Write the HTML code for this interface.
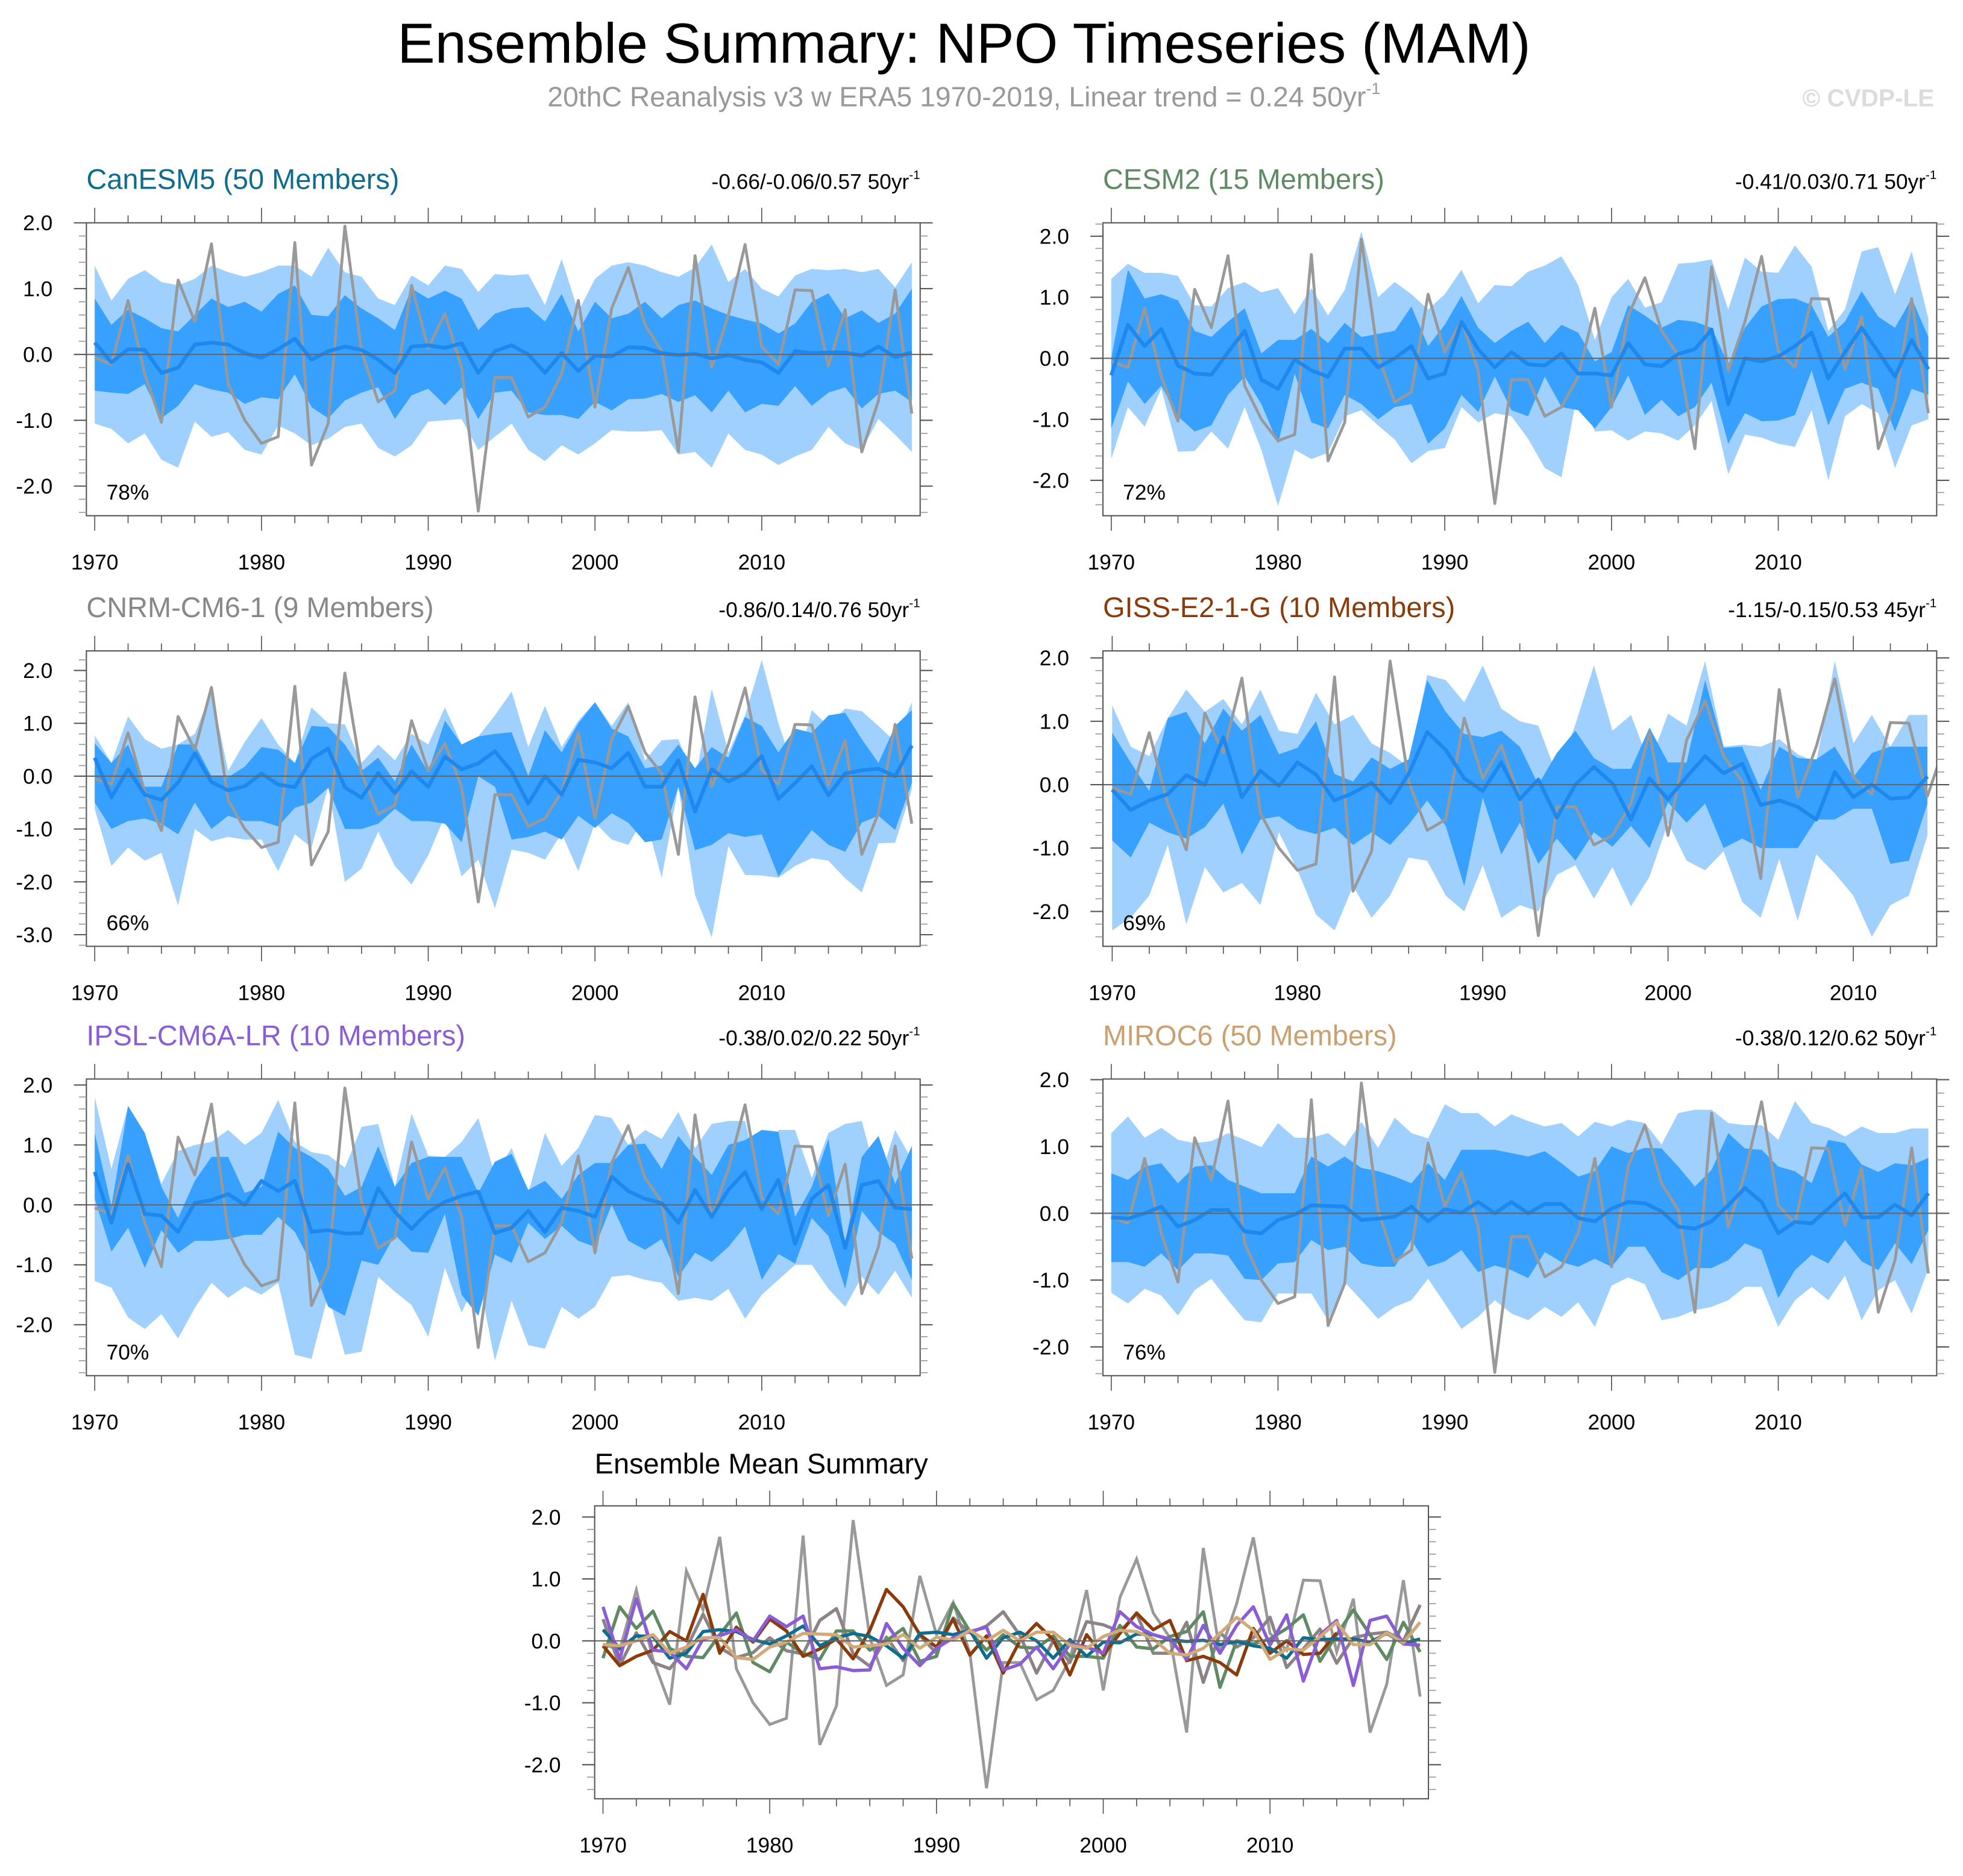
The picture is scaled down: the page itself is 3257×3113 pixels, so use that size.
<!DOCTYPE html>
<html><head><meta charset="utf-8"><title>Ensemble Summary: NPO Timeseries (MAM)</title>
<style>
html,body{margin:0;padding:0;background:#fff;}
svg{display:block;font-family:"Liberation Sans",Arial,sans-serif;}
</style></head>
<body>
<svg id="fig" width="3257" height="3113" viewBox="0 0 1568 1498.7" xmlns="http://www.w3.org/2000/svg">
<rect x="0" y="0" width="1568" height="1498.7" fill="#fff"/>
<text x="770" y="50" font-size="45" text-anchor="middle" fill="#000">Ensemble Summary: NPO Timeseries (MAM)</text>
<text x="770" y="85" font-size="22.3" text-anchor="middle" fill="#999">20thC Reanalysis v3 w ERA5 1970-2019, Linear trend = 0.24 50yr<tspan font-size="13" dy="-10">-1</tspan></text>
<text x="1545" y="85" font-size="19.5" font-weight="bold" text-anchor="end" fill="#dcdcdc">© CVDP-LE</text>
<g id="panels"></g>
</svg>
<script>
const obs = [-0.05,-0.15,0.82,-0.3,-1.03,1.13,0.5,1.68,-0.45,-1.0,-1.35,-1.25,1.7,-1.68,-1.05,1.95,0.05,-0.72,-0.55,1.05,0.1,0.62,-0.2,-2.38,-0.35,-0.35,-0.95,-0.8,-0.3,0.82,-0.8,0.7,1.32,0.45,0.05,-1.48,1.5,-0.2,0.6,1.67,0.12,-0.15,0.98,0.97,-0.18,0.68,-1.48,-0.7,0.98,-0.9];

const canMean = [0.18,-0.12,0.08,0.07,-0.28,-0.2,0.15,0.18,0.15,0.02,-0.05,0.08,0.24,-0.08,0.05,0.12,0.07,-0.08,-0.28,0.12,0.14,0.1,0.17,-0.28,0.05,0.14,0.0,-0.28,0.02,-0.25,-0.02,-0.03,0.11,0.1,0.02,-0.01,0.01,-0.06,-0.01,-0.08,-0.12,-0.28,0.05,0.02,0.03,0.03,-0.02,0.12,-0.04,0.03];
const canQ75 = [0.85,0.45,0.68,0.55,0.4,0.35,0.6,0.85,0.72,0.8,0.65,0.92,1.05,0.6,0.58,0.9,0.7,0.55,0.37,1.0,0.85,0.97,0.85,0.37,0.62,0.7,0.72,0.5,0.92,0.35,0.8,0.55,0.62,0.8,0.55,0.75,0.82,0.7,0.6,0.53,0.47,0.32,0.47,0.8,0.93,0.55,0.67,0.48,0.62,1.0];
const canQ25 = [-0.55,-0.58,-0.6,-0.45,-0.97,-0.78,-0.45,-0.53,-0.58,-0.75,-0.65,-0.68,-0.3,-0.8,-0.97,-0.7,-0.58,-0.5,-0.98,-0.62,-0.52,-0.77,-0.5,-0.98,-0.58,-0.55,-0.88,-0.92,-0.92,-0.98,-0.72,-0.85,-0.68,-0.67,-0.6,-0.72,-0.62,-0.88,-0.55,-0.88,-0.75,-0.78,-0.48,-0.78,-0.58,-0.5,-0.82,-0.6,-0.55,-0.72];
const canQ90 = [1.35,0.82,1.15,1.28,1.1,1.05,1.15,1.35,1.25,1.18,1.25,1.35,1.35,1.18,1.62,1.25,1.18,0.85,0.75,1.2,1.05,1.35,1.3,0.95,1.22,1.2,1.22,0.75,1.45,0.65,1.15,1.35,1.4,1.35,1.25,1.18,1.32,1.67,1.1,1.3,1.0,0.88,1.2,1.3,1.28,1.3,1.25,1.3,1.02,1.4];
const canQ10 = [-1.05,-1.13,-1.35,-1.2,-1.6,-1.72,-1.02,-1.25,-1.18,-1.45,-1.52,-1.08,-1.2,-1.38,-1.28,-1.1,-1.05,-1.42,-1.55,-1.38,-1.02,-1.0,-0.98,-1.45,-1.25,-1.05,-1.45,-1.62,-1.38,-1.52,-1.35,-1.15,-1.17,-1.17,-1.15,-1.52,-1.48,-1.72,-1.2,-1.45,-1.52,-1.68,-1.55,-1.45,-1.1,-1.35,-1.45,-0.98,-1.22,-1.48];

const cesMean = [-0.28,0.55,0.2,0.48,-0.12,-0.25,-0.27,0.1,0.45,-0.35,-0.5,-0.02,-0.2,-0.3,0.16,0.16,-0.15,0.0,0.2,-0.33,-0.25,0.6,0.15,-0.15,0.1,-0.1,-0.12,0.08,-0.25,-0.25,-0.28,0.25,-0.1,-0.13,0.07,0.15,0.47,-0.75,0.0,-0.05,0.03,0.2,0.42,-0.33,0.1,0.5,0.1,-0.3,0.3,-0.18];
const cesQ75 = [0.0,1.45,0.98,1.05,0.95,0.45,0.35,0.6,0.82,0.08,0.3,0.3,0.48,0.25,0.58,0.35,0.4,0.45,0.85,0.2,0.55,1.02,0.5,0.25,0.45,0.6,0.25,0.55,0.42,-0.05,0.1,0.87,0.7,0.5,0.63,0.6,0.5,-0.1,0.5,0.85,0.97,0.98,0.87,0.35,0.6,1.1,0.68,0.5,0.98,0.35];
const cesQ25 = [-1.15,-0.38,-0.75,-0.45,-0.95,-1.2,-1.1,-0.6,-0.3,-0.75,-1.4,-0.25,-1.05,-1.15,-0.6,-0.75,-1.0,-0.8,-0.75,-1.4,-1.15,-0.6,-0.88,-0.3,-0.85,-0.95,-0.3,-0.8,-0.85,-1.15,-0.8,-0.28,-0.93,-0.68,-0.95,-0.8,-0.4,-1.4,-0.9,-1.03,-1.02,-0.93,-0.2,-1.1,-0.5,-0.4,-0.5,-1.2,-0.5,-0.6];
const cesQ90 = [1.3,1.55,1.4,1.4,1.35,0.87,0.85,1.15,1.25,1.08,1.15,0.72,1.15,0.7,1.12,2.08,1.0,1.25,1.05,0.8,1.05,1.45,0.9,1.2,1.18,1.42,1.52,1.67,1.2,0.3,1.0,1.3,0.83,0.92,1.55,1.57,1.62,0.8,1.65,1.42,1.4,1.85,1.5,0.45,0.8,1.75,1.82,1.05,1.75,0.65];
const cesQ10 = [-1.65,-0.8,-1.12,-0.5,-1.53,-1.52,-1.2,-1.48,-0.8,-1.5,-2.42,-1.5,-1.65,-1.55,-0.95,-0.85,-1.1,-1.33,-1.72,-1.52,-1.47,-0.8,-1.05,-0.9,-0.95,-1.32,-1.8,-1.95,-0.5,-1.2,-1.18,-1.35,-1.2,-1.23,-1.35,-1.1,-0.7,-1.9,-1.25,-1.3,-1.4,-1.45,-0.85,-2.0,-0.95,-0.75,-0.9,-1.8,-1.1,-1.0];

const cnrmMean = [0.35,-0.4,0.13,-0.35,-0.45,-0.12,0.43,-0.11,-0.27,-0.19,0.05,-0.16,-0.21,0.33,0.52,-0.21,-0.41,0.06,-0.32,0.09,-0.2,0.37,0.13,0.24,0.47,0.09,-0.52,0.0,-0.35,0.31,0.26,0.15,0.44,-0.2,-0.2,0.3,-0.67,0.13,-0.1,0.05,0.38,-0.43,-0.13,0.19,-0.36,0.05,0.11,0.14,0.0,0.58];
const cnrmQ75 = [0.62,0.25,0.6,-0.2,-0.2,0.6,0.6,0.0,-0.02,0.18,0.55,0.5,0.25,0.95,0.93,0.6,0.1,0.35,-0.1,0.6,0.08,1.05,0.6,0.75,0.8,0.83,0.0,0.87,0.45,1.0,1.4,0.9,0.75,0.15,0.2,0.6,0.15,0.55,0.35,1.12,0.95,0.45,0.9,0.82,1.15,1.2,0.7,0.25,0.95,1.25];
const cnrmQ25 = [-0.5,-1.0,-0.85,-0.8,-0.9,-1.1,-0.5,-1.0,-0.75,-0.85,-0.85,-0.95,-0.6,-0.5,-0.22,-1.0,-1.0,-0.9,-0.62,-0.85,-0.85,-0.9,-1.25,0.0,-0.2,-1.2,-1.15,-1.05,-1.2,-0.75,-0.98,-0.7,-0.88,-1.25,-1.2,-0.2,-1.4,-1.3,-1.08,-1.15,-1.1,-1.9,-1.45,-1.02,-1.3,-1.43,-0.88,-0.75,-1.02,-0.13];
const cnrmQ90 = [0.77,0.25,1.13,0.7,0.52,0.6,0.8,1.6,0.1,0.65,1.1,0.6,0.25,1.3,1.0,0.98,0.25,0.6,0.3,0.8,0.6,1.3,0.6,0.75,1.15,1.6,0.55,1.33,0.55,1.05,1.4,0.95,1.4,0.3,0.68,0.7,-0.1,1.65,0.45,1.15,2.2,1.0,0.05,1.25,0.95,1.28,1.23,0.95,0.65,1.4];
const cnrmQ10 = [-0.62,-1.7,-1.35,-1.6,-1.45,-2.45,-1.0,-1.23,-1.15,-1.2,-1.2,-1.8,-1.1,-1.35,-0.2,-2.0,-1.75,-1.05,-1.7,-2.05,-1.5,-0.75,-1.9,-1.58,-2.5,-1.39,-1.45,-1.58,-1.08,-1.8,-0.88,-1.2,-1.3,-0.75,-1.92,-0.2,-2.25,-3.05,-1.32,-1.87,-1.88,-1.92,-1.7,-1.55,-1.6,-1.93,-2.2,-1.27,-1.26,-0.25];

const gissMean = [-0.08,-0.4,-0.25,-0.15,0.15,0.0,0.75,-0.2,0.22,-0.02,0.35,0.16,-0.25,-0.13,0.03,-0.29,0.17,0.83,0.55,0.1,-0.1,0.35,-0.23,0.08,-0.52,0.0,0.28,0.02,-0.55,0.1,-0.23,0.12,0.45,0.18,0.33,-0.32,-0.25,-0.35,-0.55,0.2,-0.2,0.0,-0.22,-0.2,0.13];
const gissQ75 = [0.82,0.35,-0.1,1.05,1.15,0.65,1.2,0.85,1.1,0.48,0.58,1.0,0.17,0.05,0.43,0.25,0.4,1.65,1.15,0.8,0.75,0.85,0.6,0.0,0.5,0.85,0.42,0.25,0.25,0.9,0.35,0.35,1.65,0.58,0.6,-0.08,0.6,0.42,0.4,0.6,0.12,0.5,0.6,0.6,0.6];
const gissQ25 = [-0.88,-1.15,-0.6,-0.75,-0.85,-0.67,-0.3,-1.1,-0.55,-0.5,-0.7,-0.78,-0.68,-0.95,-0.75,-0.95,-0.63,-0.25,-0.65,-1.6,-0.2,-1.1,-0.6,-1.25,-0.85,-1.2,-0.75,-0.98,-0.65,-1.0,-0.28,-0.6,-0.3,-1.0,-0.85,-1.0,-1.0,-1.0,-0.55,-0.55,-0.38,-0.38,-1.25,-1.2,-0.3];
const gissQ90 = [1.25,0.6,0.45,1.05,1.5,1.15,1.35,0.95,1.5,0.85,0.8,1.45,0.95,1.1,0.65,0.5,0.28,1.73,1.65,1.3,1.88,1.2,1.0,0.93,0.15,0.95,1.88,0.85,1.1,0.33,1.12,0.93,1.95,0.6,0.63,0.6,0.72,0.48,0.35,1.95,0.65,1.1,0.6,1.1,1.1];
const gissQ10 = [-2.3,-2.1,-1.75,-0.95,-2.2,-1.3,-1.7,-1.55,-1.9,-0.75,-1.35,-2.05,-2.3,-1.6,-2.1,-1.75,-1.15,-1.2,-1.75,-2.0,-1.27,-2.1,-1.9,-2.0,-1.42,-1.27,-1.8,-1.3,-1.92,-1.45,-0.6,-1.2,-1.35,-1.05,-1.85,-2.1,-1.17,-2.15,-1.1,-1.4,-1.75,-2.4,-1.9,-1.75,-0.8];

const ipslMean = [0.55,-0.3,0.68,-0.15,-0.18,-0.45,0.03,0.08,0.18,0.0,0.4,0.23,0.4,-0.45,-0.42,-0.48,-0.47,0.28,-0.12,-0.4,-0.12,0.05,0.15,0.22,-0.47,-0.38,-0.1,-0.45,-0.05,-0.1,-0.2,0.47,0.23,0.1,0.03,-0.3,0.25,-0.2,0.25,0.55,-0.07,0.42,-0.65,0.1,0.33,-0.72,0.33,0.4,-0.05,-0.07];
const ipslQ75 = [1.2,-0.02,1.65,1.2,0.3,-0.22,0.4,0.8,0.8,0.2,0.3,1.22,0.95,0.8,0.6,0.15,0.3,0.98,0.3,0.7,0.8,0.8,0.8,0.2,0.72,0.85,0.25,0.4,0.1,0.5,0.7,0.7,1.0,1.02,0.6,1.15,0.8,0.5,1.0,1.08,1.25,1.22,-0.2,0.3,1.1,-0.65,0.8,1.15,0.35,0.98];
const ipslQ25 = [0.1,-0.78,-0.38,-1.05,-0.42,-0.8,-0.6,-0.6,-0.57,-0.5,-0.5,-0.2,-0.45,-0.98,-1.7,-1.85,-0.93,-1.0,-0.5,-0.78,-0.8,-0.15,-1.5,-1.85,-0.83,-0.97,-0.3,-0.57,-0.35,-0.6,-0.7,0.0,-0.6,-0.75,-0.57,-1.2,-0.8,-0.95,-0.7,-0.36,-1.25,-0.82,-0.98,-0.22,-0.52,-1.4,-0.1,-0.45,-0.65,-1.25];
const ipslQ90 = [1.8,0.6,1.65,1.2,0.35,0.9,1.0,1.05,1.25,1.0,1.2,1.75,1.05,0.88,0.83,0.62,1.3,1.35,0.3,1.52,0.82,0.8,1.05,1.45,0.5,0.95,0.2,1.2,0.65,0.95,1.5,1.45,1.0,1.25,1.1,1.55,0.95,1.35,1.4,1.4,0.25,1.25,1.25,0.45,1.2,1.35,1.4,0.35,1.25,0.75];
const ipslQ10 = [-1.27,-1.38,-1.88,-2.07,-1.82,-2.23,-1.72,-1.3,-1.55,-1.36,-1.5,-1.3,-2.5,-2.57,-1.5,-2.5,-2.45,-1.2,-1.45,-1.67,-2.2,-1.05,-1.8,-1.2,-2.6,-1.6,-2.34,-2.4,-1.7,-1.9,-1.7,-1.2,-1.17,-1.25,-1.3,-1.6,-1.55,-1.6,-1.4,-1.9,-1.5,-1.25,-1.0,-1.0,-1.4,-1.7,-1.2,-1.5,-1.1,-1.55];

const mirMean = [-0.06,-0.08,0.0,0.1,-0.2,-0.1,0.05,0.05,-0.27,-0.3,-0.1,-0.02,0.12,0.11,0.1,-0.1,-0.08,-0.05,0.1,-0.12,0.06,0.01,0.17,0.0,0.17,0.0,0.14,0.14,-0.07,-0.12,0.07,0.17,0.15,0.03,-0.2,-0.23,-0.12,0.12,0.38,0.17,-0.3,-0.13,-0.15,0.07,0.3,-0.06,-0.06,0.13,-0.03,0.3];
const mirQ75 = [0.6,0.5,0.7,0.75,0.45,0.7,0.72,0.5,0.4,0.3,0.3,0.3,0.85,0.7,0.85,0.68,0.63,0.55,0.45,0.75,0.5,0.95,0.95,0.95,0.9,0.85,0.93,0.75,0.55,0.63,1.0,0.9,0.98,0.97,0.7,0.4,0.65,1.2,0.97,0.95,0.7,0.63,0.45,1.1,1.05,0.73,0.62,0.75,0.72,0.83];
const mirQ25 = [-0.73,-0.73,-0.8,-0.6,-0.85,-0.6,-0.6,-0.63,-0.98,-1.0,-0.75,-0.73,-0.4,-0.55,-0.5,-0.75,-0.8,-0.8,-0.4,-0.8,-0.72,-0.55,-0.88,-0.78,-0.85,-0.97,-0.58,-0.73,-0.8,-0.68,-0.8,-0.5,-0.5,-0.88,-1.0,-0.82,-0.82,-0.7,-0.45,-0.55,-1.27,-0.85,-0.62,-0.75,-0.4,-0.72,-0.85,-0.45,-0.76,-0.25];
const mirQ90 = [1.2,1.45,1.13,1.28,1.1,1.05,1.08,1.2,1.1,0.99,1.35,1.13,1.13,1.2,1.0,1.37,0.98,1.43,1.2,1.12,1.63,1.5,1.5,1.3,1.48,1.38,1.3,1.35,1.15,1.37,1.3,1.4,1.35,1.03,1.5,1.55,1.55,1.35,1.32,1.32,1.1,1.68,1.35,1.28,1.15,1.3,1.2,1.2,1.27,1.27];
const mirQ10 = [-1.19,-1.35,-1.13,-1.23,-1.53,-1.15,-0.98,-1.3,-1.6,-1.63,-1.2,-1.2,-1.2,-1.6,-1.03,-1.3,-1.58,-1.4,-1.3,-0.98,-1.35,-1.73,-1.55,-1.3,-1.5,-1.6,-1.4,-1.55,-1.33,-1.7,-1.08,-0.96,-1.06,-1.6,-1.55,-1.45,-1.4,-1.3,-1.1,-1.1,-1.7,-1.3,-1.1,-1.3,-0.93,-1.6,-1.15,-1.0,-1.5,-0.83];

const xTickLabels = ["1970","1980","1990","2000","2010"];
const panelTitles = ["CanESM5 (50 Members)","CESM2 (15 Members)","CNRM-CM6-1 (9 Members)","GISS-E2-1-G (10 Members)","IPSL-CM6A-LR (10 Members)","MIROC6 (50 Members)"];
const trendTexts = ["-0.66/-0.06/0.57 50yr","-0.41/0.03/0.71 50yr","-0.86/0.14/0.76 50yr","-1.15/-0.15/0.53 45yr","-0.38/0.02/0.22 50yr","-0.38/0.12/0.62 50yr"];
const pctLabels = ["78%","72%","66%","69%","70%","76%"];

const NS = "http://www.w3.org/2000/svg";
const root = document.getElementById('panels');
function mk(tag, attrs, parent){
  const e = document.createElementNS(NS, tag);
  for (const k in attrs) e.setAttribute(k, attrs[k]);
  (parent||root).appendChild(e);
  return e;
}
function slug(s){return s.toLowerCase().replace(/[^a-z0-9]+/g,'-').replace(/-+$/,'');}

function axes(cfg){
  const {x0,x1,y0,y1,xmin,xmax,vtop,vbot} = cfg;
  const X = yr => x0 + (yr - xmin)/(xmax - xmin)*(x1 - x0);
  const Y = v => y0 + (vtop - v)/(vtop - vbot)*(y1 - y0);
  return {X,Y};
}
function drawFrame(cfg, g, X, Y){
  const {x0,x1,y0,y1,xmin,xmax,vtop,vbot,yticks} = cfg;
  const tk = mk('g',{},g);
  
  
  for (let yr=1970; yr<=xmax; yr+=2){
    const major = yr%10===0;
    const L = major?12:6;
    mk('line',{x1:X(yr),x2:X(yr),y1:y0,y2:y0-L,stroke:'#555','stroke-width':0.8},tk);
    mk('line',{x1:X(yr),x2:X(yr),y1:y1,y2:y1+L,stroke:'#555','stroke-width':0.8},tk);
  }
  const lo = Math.ceil(vbot*5-1e-6), hi = Math.floor(vtop*5+1e-6);
  for (let i=lo;i<=hi;i++){
    const v=i/5, major = (i%5===0);
    const L = major?10:6;
    mk('line',{x1:x0,x2:x0-L,y1:Y(v),y2:Y(v),stroke:major?'#555':'#999','stroke-width':major?1:0.8},tk);
    mk('line',{x1:x1,x2:x1+L,y1:Y(v),y2:Y(v),stroke:major?'#555':'#999','stroke-width':major?1:0.8},tk);
  }
  const yl = mk('g',{'font-size':17,'text-anchor':'end',fill:'#000'},g);
  
  
  yticks.forEach(v=>{
    const t = mk('text',{x:x0-27,y:Y(v)+6},yl);
    t.textContent = v.toFixed(1);
  });
  const xl = mk('g',{'font-size':17,'text-anchor':'middle',fill:'#000'},g);
  
  
  xTickLabels.forEach(s=>{
    const yr = +s; if (yr>xmax) return;
    const t = mk('text',{x:X(yr),y:y1+43},xl);
    t.textContent = s;
  });
}
function poly(vals, X, Y){ return vals.map((v,i)=>X(1970+i).toFixed(2)+','+Y(v).toFixed(2)); }
function band(upper, lower, X, Y){
  const a = poly(upper,X,Y), b = poly(lower,X,Y).reverse();
  return a.concat(b).join(' ');
}
function clipFor(cfg, id){
  const defs = mk('defs',{});
  const cp = mk('clipPath',{id:id},defs);
  mk('rect',{x:cfg.x0,y:cfg.y0,width:cfg.x1-cfg.x0,height:cfg.y1-cfg.y0},cp);
}

function drawPanel(idx, cfg, m){
  const g = mk('g',{});
  
  
  const {X,Y} = axes(cfg);
  const cid = 'clip'+idx; clipFor(cfg,cid);
  const plot = mk('g',{'clip-path':'url(#'+cid+')'},g);
  const b1 = mk('polygon',{points:band(m.q90,m.q10,X,Y),fill:'#a0d0fe'},plot);
  
  
  const b2 = mk('polygon',{points:band(m.q75,m.q25,X,Y),fill:'#38a0fe'},plot);
  
  
  const z = mk('line',{x1:cfg.x0,x2:cfg.x1,y1:Y(0),y2:Y(0),stroke:'#666','stroke-width':1},g);
  
  
  const ob = mk('polyline',{points:poly(obs,X,Y).join(' '),fill:'none',stroke:'#999','stroke-width':2.3,'stroke-linejoin':'round'},plot);
  
  
  const ml = mk('polyline',{points:poly(m.mean,X,Y).join(' '),fill:'none',stroke:'#1e88ee','stroke-width':3,'stroke-linejoin':'round'},plot);
  
  
  const fr = mk('rect',{x:cfg.x0,y:cfg.y0,width:cfg.x1-cfg.x0,height:cfg.y1-cfg.y0,fill:'none',stroke:'#555','stroke-width':1},g);
  
  
  drawFrame(cfg,g,X,Y);
  const t = mk('text',{x:cfg.x0,y:cfg.y0-27,'font-size':22.6,fill:cfg.color},g);
  t.textContent = panelTitles[idx];
  
  
  const tr = mk('text',{x:cfg.x1,y:cfg.y0-27,'font-size':17,'text-anchor':'end',fill:'#000'},g);
  tr.textContent = trendTexts[idx];
  const sup = mk('tspan',{'font-size':10,dy:-8},tr);
  sup.textContent = '-1';
  
  
  const p = mk('text',{x:cfg.x0+16,y:cfg.y1-13,'font-size':17,fill:'#000'},g);
  p.textContent = pctLabels[idx];
  
  
}

const L0=69,L1=735,R0=881,R1=1547;
const rows=[[178,412],[520,756],[862,1099]];
drawPanel(0,{x0:L0,x1:L1,y0:rows[0][0],y1:rows[0][1],xmin:1969.5,xmax:2019.5,vtop:2.0,vbot:-2.45,yticks:[2,1,0,-1,-2],color:'#0e6c8e'},{mean:canMean,q75:canQ75,q25:canQ25,q90:canQ90,q10:canQ10});
drawPanel(1,{x0:R0,x1:R1,y0:rows[0][0],y1:rows[0][1],xmin:1969.5,xmax:2019.5,vtop:2.22,vbot:-2.58,yticks:[2,1,0,-1,-2],color:'#5f8a63'},{mean:cesMean,q75:cesQ75,q25:cesQ25,q90:cesQ90,q10:cesQ10});
drawPanel(2,{x0:L0,x1:L1,y0:rows[1][0],y1:rows[1][1],xmin:1969.5,xmax:2019.5,vtop:2.37,vbot:-3.22,yticks:[2,1,0,-1,-2,-3],color:'#888888'},{mean:cnrmMean,q75:cnrmQ75,q25:cnrmQ25,q90:cnrmQ90,q10:cnrmQ10});
drawPanel(3,{x0:R0,x1:R1,y0:rows[1][0],y1:rows[1][1],xmin:1969.5,xmax:2014.5,vtop:2.11,vbot:-2.55,yticks:[2,1,0,-1,-2],color:'#8b3a0a'},{mean:gissMean,q75:gissQ75,q25:gissQ25,q90:gissQ90,q10:gissQ10});
drawPanel(4,{x0:L0,x1:L1,y0:rows[2][0],y1:rows[2][1],xmin:1969.5,xmax:2019.5,vtop:2.1,vbot:-2.85,yticks:[2,1,0,-1,-2],color:'#8a5cd6'},{mean:ipslMean,q75:ipslQ75,q25:ipslQ25,q90:ipslQ90,q10:ipslQ10});
drawPanel(5,{x0:R0,x1:R1,y0:rows[2][0],y1:rows[2][1],xmin:1969.5,xmax:2019.5,vtop:2.01,vbot:-2.43,yticks:[2,1,0,-1,-2],color:'#caa070'},{mean:mirMean,q75:mirQ75,q25:mirQ25,q90:mirQ90,q10:mirQ10});

(function(){
  const cfg={x0:475,x1:1141,y0:1203,y1:1437,xmin:1969.5,xmax:2019.5,vtop:2.18,vbot:-2.55,yticks:[2,1,0,-1,-2]};
  const g = mk('g',{});
  
  
  const {X,Y} = axes(cfg);
  clipFor(cfg,'clipS');
  const plot = mk('g',{'clip-path':'url(#clipS)'},g);
  const z = mk('line',{x1:cfg.x0,x2:cfg.x1,y1:Y(0),y2:Y(0),stroke:'#666','stroke-width':1},g);
  
  
  const ob = mk('polyline',{points:poly(obs,X,Y).join(' '),fill:'none',stroke:'#999','stroke-width':2.3},plot);
  
  
  const series = [[cnrmMean,'#8c8288','cnrm-mean-line'],[cesMean,'#5f8a63','cesm2-mean-line'],[gissMean,'#8b3a0a','giss-mean-line'],[canMean,'#0e6c8e','canesm5-mean-line'],[ipslMean,'#8a5cd6','ipsl-mean-line'],[mirMean,'#d2aa78','miroc6-mean-line']];
  series.forEach(s=>{
    const pl = mk('polyline',{points:poly(s[0],X,Y).join(' '),fill:'none',stroke:s[1],'stroke-width':2.6,'stroke-linejoin':'round'},plot);
    
    
  });
  const fr = mk('rect',{x:cfg.x0,y:cfg.y0,width:cfg.x1-cfg.x0,height:cfg.y1-cfg.y0,fill:'none',stroke:'#555','stroke-width':1},g);
  
  
  drawFrame(cfg,g,X,Y);
  const t = mk('text',{x:cfg.x0,y:1177,'font-size':22.6,fill:'#000'},g);
  t.textContent = 'Ensemble Mean Summary';
  
  
})();
</script>
</body></html>
